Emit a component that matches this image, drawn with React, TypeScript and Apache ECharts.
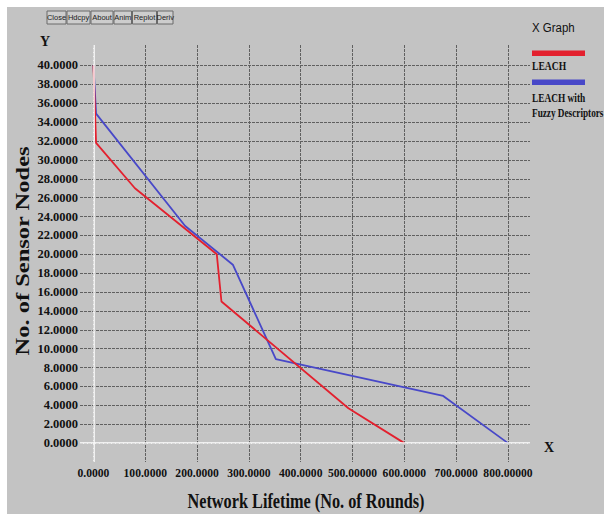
import React, { useEffect, useRef } from "react";
import * as echarts from "echarts";

// LEACH (red)
const leachRounds = [0, 5, 80, 238, 247, 492, 600];
const leachNodes = [40, 31.8, 27, 20, 15, 3.7, 0];
// LEACH with Fuzzy Descriptors (blue)
const fuzzyRounds = [0, 5, 177, 269, 352, 675, 800];
const fuzzyNodes = [40, 34.9, 23, 18.9, 8.9, 5, 0];

const xTickValues = [0, 100, 200, 300, 400, 500, 600, 700, 800];
const xTickLabels = [
  "0.0000",
  "100.0000",
  "200.0000",
  "300.0000",
  "400.0000",
  "500.00000",
  "600.0000",
  "700.0000",
  "800.00000",
];
const yTickValues = [0, 2, 4, 6, 8, 10, 12, 14, 16, 18, 20, 22, 24, 26, 28, 30, 32, 34, 36, 38, 40];

const seriesNames = ["LEACH", "LEACH with Fuzzy Descriptors"];
const buttonLabels = ["Close", "Hdcpy", "About", "Anim", "Replot", "Deriv"];

const SERIF = "'Liberation Serif', 'Times New Roman', serif";
const SANS = "'Liberation Sans', Arial, sans-serif";
const RED = "#e3202e";
const BLUE = "#4848c8";

export default function App() {
  const ref = useRef<HTMLDivElement>(null);

  useEffect(() => {
    if (!ref.current) return;
    const chart = echarts.init(ref.current, undefined, { renderer: "svg" });

    const buttonEdges = [47, 67, 91, 114, 132.5, 157.5, 174];
    const buttons: any[] = [];
    buttonLabels.forEach((label, i) => {
      const x0 = buttonEdges[i];
      const x1 = buttonEdges[i + 1] - 1;
      buttons.push({
        type: "rect",
        shape: { x: x0, y: 11, width: x1 - x0, height: 13 },
        style: { fill: "#cdcdcd", stroke: "#6a6a6a", lineWidth: 1 },
      });
      buttons.push({
        type: "text",
        x: (x0 + x1) / 2,
        y: 17.5,
        style: {
          text: label,
          font: `7.5px ${SANS}`,
          fill: "#222",
          textAlign: "center",
          textVerticalAlign: "middle",
        },
      });
    });

    const toPairs = (xs: number[], ys: number[]) => xs.map((x, i) => [x, ys[i]]);

    chart.setOption({
      animation: false,
      grid: { left: 80, right: 74, top: 45, bottom: 52, containLabel: false },
      xAxis: {
        type: "value",
        min: -26,
        max: 842.5,
        axisLine: { show: false },
        axisTick: { show: false, customValues: xTickValues },
        axisLabel: {
          customValues: xTickValues,
          margin: 5,
          color: "#111",
          fontFamily: SERIF,
          fontWeight: "bold",
          fontSize: 11.6,
          formatter: (v: number) => {
            const idx = xTickValues.indexOf(v);
            return idx >= 0 ? xTickLabels[idx] : "";
          },
        },
        splitLine: {
          show: true,
          lineStyle: { color: "#606060", width: 1, type: [3, 1] },
        },
      },
      yAxis: {
        type: "value",
        min: -2,
        max: 42.17,
        axisLine: { show: false },
        axisTick: { show: false, customValues: yTickValues },
        axisLabel: {
          customValues: yTickValues,
          margin: 2,
          color: "#111",
          fontFamily: SERIF,
          fontWeight: "bold",
          fontSize: 12.5,
          formatter: (v: number) => v.toFixed(4),
        },
        splitLine: {
          show: true,
          lineStyle: { color: "#606060", width: 1, type: [3, 1] },
        },
      },
      series: [
        {
          type: "line",
          name: "axes",
          data: [],
          silent: true,
          markLine: {
            silent: true,
            symbol: ["none", "none"],
            label: { show: false },
            lineStyle: { color: "#ffffff", width: 1.5, type: "solid" },
            data: [{ xAxis: 0 }, { yAxis: 0 }],
          },
        },
        {
          type: "line",
          name: seriesNames[1],
          data: toPairs(fuzzyRounds, fuzzyNodes),
          showSymbol: false,
          lineStyle: { color: BLUE, width: 1.8 },
          itemStyle: { color: BLUE },
        },
        {
          type: "line",
          name: seriesNames[0],
          data: toPairs(leachRounds, leachNodes),
          showSymbol: false,
          lineStyle: { color: RED, width: 1.8 },
          itemStyle: { color: RED },
        },
      ],
      graphic: [
        ...buttons,
        {
          type: "text",
          x: 45,
          y: 41,
          style: { text: "Y", font: `bold 14px ${SERIF}`, fill: "#111", textAlign: "center", textVerticalAlign: "middle" },
        },
        {
          type: "text",
          x: 549,
          y: 447,
          style: { text: "X", font: `bold 14px ${SERIF}`, fill: "#111", textAlign: "center", textVerticalAlign: "middle" },
        },
        {
          type: "text",
          x: 23,
          y: 251,
          rotation: Math.PI / 2,
          scaleY: 0.75,
          style: {
            text: "No. of Sensor Nodes",
            font: `bold 24.5px ${SERIF}`,
            fill: "#111",
            textAlign: "center",
            textVerticalAlign: "middle",
          },
        },
        {
          type: "text",
          x: 306,
          y: 501,
          scaleX: 0.775,
          style: {
            text: "Network Lifetime (No. of Rounds)",
            font: `bold 21px ${SERIF}`,
            fill: "#111",
            textAlign: "center",
            textVerticalAlign: "middle",
          },
        },
        {
          type: "text",
          x: 532,
          y: 28,
          scaleX: 0.85,
          style: { text: "X Graph", font: `13.5px ${SANS}`, fill: "#111", textAlign: "left", textVerticalAlign: "middle" },
        },
        { type: "rect", shape: { x: 532, y: 50.5, width: 53, height: 5.5 }, style: { fill: RED } },
        {
          type: "text",
          x: 532,
          y: 66,
          scaleX: 0.8,
          style: { text: seriesNames[0], font: `bold 12px ${SERIF}`, fill: "#111", textAlign: "left", textVerticalAlign: "middle" },
        },
        { type: "rect", shape: { x: 532, y: 79.5, width: 53, height: 5.5 }, style: { fill: BLUE } },
        {
          type: "text",
          x: 532,
          y: 98,
          scaleX: 0.78,
          style: { text: "LEACH with", font: `bold 12px ${SERIF}`, fill: "#111", textAlign: "left", textVerticalAlign: "middle" },
        },
        {
          type: "text",
          x: 532,
          y: 113,
          scaleX: 0.77,
          style: { text: "Fuzzy Descriptors", font: `bold 12px ${SERIF}`, fill: "#111", textAlign: "left", textVerticalAlign: "middle" },
        },
      ],
    });

    return () => chart.dispose();
  }, []);

  return (
    <div style={{ position: "absolute", left: 0, top: 0, width: 604, height: 514, background: "#ffffff" }}>
      <div style={{ position: "absolute", left: 7, top: 7, right: 0, bottom: 0, background: "#c3c3c3" }} />
      <div ref={ref} style={{ position: "absolute", left: 0, top: 0, width: 604, height: 514 }} />
    </div>
  );
}
